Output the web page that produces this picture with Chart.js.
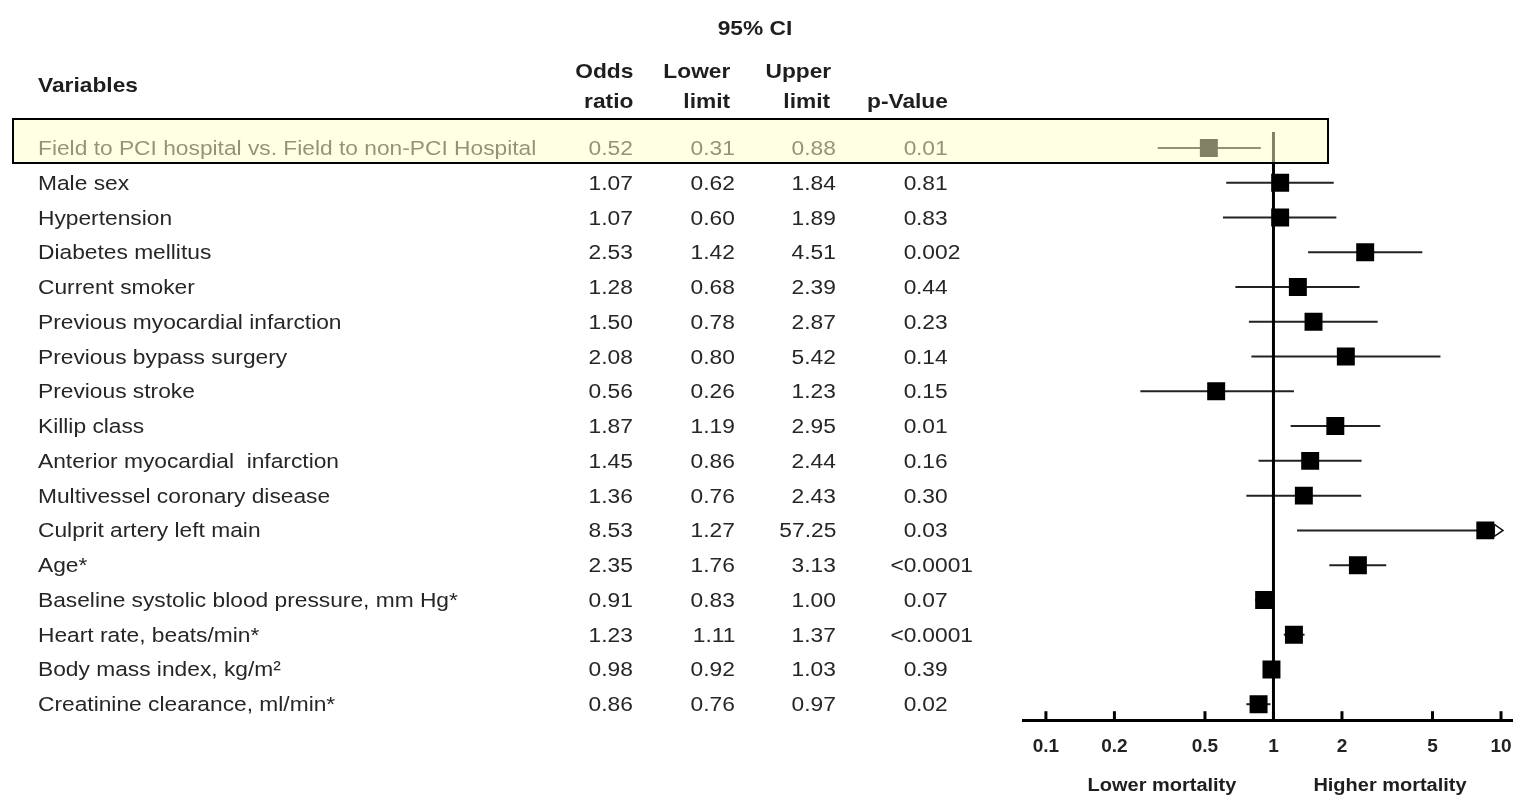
<!DOCTYPE html>
<html>
<head>
<meta charset="utf-8">
<script src="https://cdn.jsdelivr.net/npm/chart.js@4.4.0/dist/chart.umd.min.js"></script>
<style>
  body { margin: 0; background: #fff; }
  #wrap { position: relative; width: 1513px; height: 796px; overflow: hidden;
          font-family: "Liberation Sans", Arial, sans-serif; color: #262626; }
  #plot { position: absolute; left: 0; top: 0; }
  .t { position: absolute; white-space: pre; font-size: 20.5px; line-height: 24px; height: 24px; }
  .b { font-weight: bold; color: #1e1e1e; }
  .s { font-size: 18px; }
  #highlight { position: absolute; left: 12px; top: 118px; width: 1317px; height: 46px; z-index: 5;
               box-sizing: border-box; border: 2px solid #000; background: rgba(255,255,200,0.5); }
</style>
</head>
<body>
<div id="wrap">
  <!-- canvas is a little wider than the page so the axis can run to the right edge -->
  <canvas id="plot" width="1540" height="796"></canvas>
  <div id="highlight"></div>
</div>
<script>
const variables = [
  "Field to PCI hospital vs. Field to non-PCI Hospital",
  "Male sex",
  "Hypertension",
  "Diabetes mellitus",
  "Current smoker",
  "Previous myocardial infarction",
  "Previous bypass surgery",
  "Previous stroke",
  "Killip class",
  "Anterior myocardial  infarction",
  "Multivessel coronary disease",
  "Culprit artery left main",
  "Age*",
  "Baseline systolic blood pressure, mm Hg*",
  "Heart rate, beats/min*",
  "Body mass index, kg/m\u00b2",
  "Creatinine clearance, ml/min*"
];
const oddsRatio = [0.52, 1.07, 1.07, 2.53, 1.28, 1.50, 2.08, 0.56, 1.87, 1.45, 1.36, 8.53, 2.35, 0.91, 1.23, 0.98, 0.86];
const lowerLimit = [0.31, 0.62, 0.60, 1.42, 0.68, 0.78, 0.80, 0.26, 1.19, 0.86, 0.76, 1.27, 1.76, 0.83, 1.11, 0.92, 0.76];
const upperLimit = [0.88, 1.84, 1.89, 4.51, 2.39, 2.87, 5.42, 1.23, 2.95, 2.44, 2.43, 57.25, 3.13, 1.00, 1.37, 1.03, 0.97];
const pValues = ["0.01", "0.81", "0.83", "0.002", "0.44", "0.23", "0.14", "0.15", "0.01", "0.16", "0.30", "0.03",
                 "<0.0001", "0.07", "<0.0001", "0.39", "0.02"];
const tickValues = [0.1, 0.2, 0.5, 1, 2, 5, 10];
const tickLabels = ["0.1", "0.2", "0.5", "1", "2", "5", "10"];

const W = 1513;
const SX = 1.11;   // source text is a bit wider than Arial
const wrap = document.getElementById('wrap');

function addText(str, x, y, align, cls) {
  const d = document.createElement('div');
  d.className = 't ' + (cls || '');
  d.textContent = str;
  d.style.top = (y - 12) + 'px';
  if (align === 'right') {
    d.style.right = (W - x) + 'px';
    d.style.transformOrigin = 'right center';
    d.style.transform = 'scaleX(' + SX + ')';
  } else if (align === 'center') {
    d.style.left = x + 'px';
    d.style.transformOrigin = 'center center';
    d.style.transform = 'translateX(-50%) scaleX(' + SX + ')';
  } else {
    d.style.left = x + 'px';
    d.style.transformOrigin = 'left center';
    d.style.transform = 'scaleX(' + SX + ')';
  }
  wrap.appendChild(d);
}

const forestPlugin = {
  id: 'forest',
  beforeDatasetsDraw(chart) {
    const { ctx, scales: { x, y } } = chart;
    ctx.save();
    ctx.strokeStyle = '#222';
    ctx.lineWidth = 2;
    lowerLimit.forEach((lo, i) => {
      const py = y.getPixelForValue(i);
      const x0 = x.getPixelForValue(lo);
      const x1 = upperLimit[i] > x.max ? x.getPixelForValue(oddsRatio[i]) : x.getPixelForValue(upperLimit[i]);
      ctx.beginPath();
      ctx.moveTo(x0, py);
      ctx.lineTo(x1, py);
      ctx.stroke();
    });
    ctx.restore();
  },
  afterDatasetsDraw(chart) {
    const { ctx, chartArea, scales: { x, y } } = chart;
    ctx.save();
    // open arrow where the upper limit runs off the axis
    upperLimit.forEach((hi, i) => {
      if (hi <= x.max) return;
      const py = y.getPixelForValue(i);
      const base = x.getPixelForValue(oddsRatio[i]) + 9;
      const tip = chartArea.right - 10;
      ctx.beginPath();
      ctx.moveTo(base, py - 6);
      ctx.lineTo(tip, py);
      ctx.lineTo(base, py + 6);
      ctx.closePath();
      ctx.fillStyle = '#fff';
      ctx.fill();
      ctx.strokeStyle = '#111';
      ctx.lineWidth = 1.5;
      ctx.stroke();
    });
    // tick marks point up into the plot
    ctx.strokeStyle = '#000';
    ctx.lineWidth = 3;
    tickValues.forEach(v => {
      const px = x.getPixelForValue(v);
      ctx.beginPath();
      ctx.moveTo(px, chartArea.bottom);
      ctx.lineTo(px, chartArea.bottom - 9);
      ctx.stroke();
    });
    ctx.restore();
  }
};

const yMin = -0.46, yMax = 16.46;

const chart = new Chart(document.getElementById('plot'), {
  data: {
    datasets: [
      {
        type: 'line',
        data: [{ x: 1, y: yMin }, { x: 1, y: yMax }],
        borderColor: '#000',
        borderWidth: 3,
        pointRadius: 0
      },
      {
        type: 'scatter',
        data: oddsRatio.map((v, i) => ({ x: v, y: i })),
        pointStyle: 'rect',
        radius: 12.7,
        backgroundColor: '#000',
        borderWidth: 0
      }
    ]
  },
  options: {
    responsive: false,
    animation: false,
    layout: { padding: { left: 1023, top: 132, right: 27, bottom: 38 } },
    plugins: { legend: { display: false }, tooltip: { enabled: false } },
    scales: {
      x: {
        type: 'logarithmic',
        min: 0.0793,
        max: 11.29,
        // grid hidden, but tickLength still reserves the gap above the labels
        grid: { display: false, drawTicks: true, tickLength: 15 },
        border: { display: true, color: '#000', width: 3 },
        afterBuildTicks: (scale) => { scale.ticks = tickValues.map(v => ({ value: v })); },
        ticks: {
          autoSkip: false,
          maxRotation: 0,
          padding: 0,
          color: '#222',
          font: { family: '"Liberation Sans", Arial, sans-serif', size: 19, weight: 'bold' },
          callback: (v, i) => tickLabels[i]
        }
      },
      y: {
        type: 'linear',
        display: false,
        reverse: true,
        min: yMin,
        max: yMax
      }
    }
  },
  plugins: [forestPlugin]
});

// table text
const ys = chart.scales.y;
addText('95% CI', 755, 28, 'center', 'b');
addText('Variables', 38, 85, 'left', 'b');
addText('Odds', 633, 71, 'right', 'b');
addText('ratio', 633, 101, 'right', 'b');
addText('Lower', 730, 71, 'right', 'b');
addText('limit', 730, 101, 'right', 'b');
addText('Upper', 831, 71, 'right', 'b');
addText('limit', 830, 101, 'right', 'b');
addText('p-Value', 948, 101, 'right', 'b');

variables.forEach((name, i) => {
  const py = ys.getPixelForValue(i);
  addText(name, 38, py, 'left');
  addText(oddsRatio[i].toFixed(2), 633, py, 'right');
  addText(lowerLimit[i].toFixed(2), 735, py, 'right');
  addText(upperLimit[i].toFixed(2), 836, py, 'right');
  // p-values line up on the decimal point
  const dot = pValues[i].indexOf('.');
  addText(pValues[i].slice(0, dot), 916, py, 'right');
  addText(pValues[i].slice(dot), 916, py, 'left');
});

addText('Lower mortality', 1162, 785, 'center', 'b s');
addText('Higher mortality', 1390, 785, 'center', 'b s');
</script>
</body>
</html>
